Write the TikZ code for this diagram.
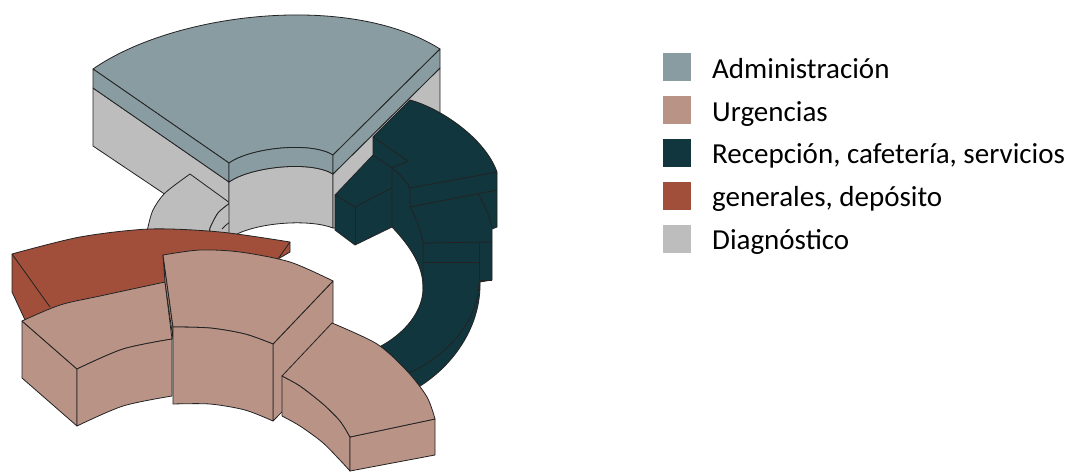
\documentclass[tikz,border=0pt]{standalone}
\usepackage{fontspec}
\setmainfont{Carlito}
\definecolor{admc}{RGB}{137,156,162}
\definecolor{urgc}{RGB}{185,147,134}
\definecolor{recc}{RGB}{17,54,61}
\definecolor{genc}{RGB}{161,79,58}
\definecolor{diac}{RGB}{189,189,189}
\definecolor{edgec}{RGB}{35,35,35}
\tikzset{
  edge/.style={draw=edgec, line width=0.8pt, line join=round},
  adm/.style={edge, fill=admc},
  urg/.style={edge, fill=urgc},
  rec/.style={edge, fill=recc},
  gen/.style={edge, fill=genc},
  dia/.style={edge, fill=diac}
}
\begin{document}
\begin{tikzpicture}[x=1pt, y=-1pt]
\useasboundingbox (0,0) rectangle (1084,474);
% diagnostico
\path [dia] (93,88) -- (229,182) -- (229,215) -- (200,226) -- (166,195) -- (93,146) -- cycle;
\path [dia] (190,174) -- (230,203) -- plot [smooth] coordinates {(230,203) (218,213) (210,228)} -- (208,238) -- (146,238)
  -- plot [smooth] coordinates {(148,227) (153,210) (165,193) (190,174)} -- cycle;
\path [dia] (230,203) -- plot [smooth] coordinates {(230,203) (218,213) (210,228)} -- (210,238) -- (230,238) -- cycle;
\draw [edge] plot [smooth] coordinates {(222,229) (226,225) (230,222)};
\path [dia] (229,182) .. controls (250,167) and (310,160) .. (333,174) -- (333,228)
  .. controls (310,219) and (260,222) .. (235,235) -- (229,236) -- cycle;
\path [dia] (333,174) -- (440,68) -- (440,125) -- (360,200) -- (336,228) -- (333,228) -- cycle;
% administracion
\path [adm] (93,69) .. controls (175,12) and (350,-8) .. (440,49) -- (333,155)
  .. controls (310,141) and (250,148) .. (229,163) -- cycle;
\path [adm] (93,69) -- (229,163) -- (229,182) -- (93,88) -- cycle;
\path [adm] (229,163) .. controls (250,148) and (310,141) .. (333,155) -- (333,174)
  .. controls (310,160) and (250,167) .. (229,182) -- cycle;
\path [adm] (333,155) -- (440,49) -- (440,68) -- (333,174) -- cycle;
% recepcion
\path [rec] (335,195) -- (373,155) -- (373,137) -- (410,100)
  .. controls (440,108) and (485,138) .. (497,172) -- (497,227) -- (492,229) -- (492,280) -- (480,282)
  .. controls (481,325) and (455,365) .. (417,388) -- (400,398) -- (360,362) -- (373,350)
  .. controls (400,338) and (422,315) .. (423,290) .. controls (424,268) and (412,248) .. (392,227)
  -- (355,245) -- (335,230) -- cycle;
\draw [edge] (373,137) -- (408,161) -- (392,168) -- (392,227);
\draw [edge] (373,155) -- (392,168);
\draw [edge] (392,168) .. controls (400,174) and (406,181) .. (410,188);
\draw [edge] (497,172) -- (410,188) -- (410,207) -- (497,190);
\draw [edge] (410,207) .. controls (416,218) and (421,230) .. (423,243) -- (423,290);
\draw [edge] (423,243) -- (492,242);
\draw [edge] (423,262) -- (479,262);
\draw [edge] (479,242) -- (479,280) -- (492,280);
\draw [edge] (478,194) .. controls (484,203) and (489,215) .. (492,228);
\draw [edge] (335,195) -- (355,207) -- (392,188);
\draw [edge] (355,207) -- (355,245);
\draw [edge] (479,282) .. controls (478,320) and (450,355) .. (405,375);
% generales, deposito
\path [gen] (12,254) -- plot [smooth] coordinates {(12,254) (80,237) (150,229) (220,232) (290,242)} -- (290,252) -- (278,259)
  -- (200,290) -- (60,318) -- (26,322) -- (12,292) -- cycle;
\draw [edge] (12,254) -- (50,307);
\draw [edge] (290,242) -- (278,259);
% urgencias
\path [urg] (22,321) -- (77,369) -- (77,426) -- (22,378) -- cycle;
\path [urg] (22,321) -- plot [smooth] coordinates {(22,321) (60,305) (100,296) (165,282)} -- (172,339)
  -- plot [smooth] coordinates {(172,339) (123,349) (77,369)} -- cycle;
\path [urg] (77,369) -- plot [smooth] coordinates {(77,369) (123,349) (172,339)} -- (172,396)
  -- plot [smooth] coordinates {(172,396) (123,406) (77,426)} -- cycle;
\path [urg] (163,255) -- (173,327) -- (173,339) -- (165,282) -- cycle;
\path [urg] (333,281) -- (333,360) -- (273,421) -- (273,344) -- cycle;
\path [urg] (163,255) -- plot [smooth] coordinates {(163,255) (200,250) (240,252) (290,262) (333,281)} -- (273,344)
  -- plot [smooth] coordinates {(273,344) (245,334) (210,328) (173,327)} -- cycle;
\path [urg] (173,327) -- plot [smooth] coordinates {(173,327) (210,328) (245,334) (273,344)} -- (273,421)
  -- plot [smooth] coordinates {(273,421) (245,410) (210,404) (173,404)} -- cycle;
\path [urg] (282,376) -- plot [smooth] coordinates {(282,376) (300,386) (323,404) (340,421) (350,437)} -- (350,471)
  -- plot [smooth] coordinates {(350,471) (338,458) (322,442) (300,426) (282,416)} -- cycle;
\path [urg] (350,437) -- (435,419) -- (435,455) -- (350,471) -- cycle;
\path [urg] (332,323) -- plot [smooth] coordinates {(332,323) (377,344) (407,371) (427,397) (435,419)} -- (350,437)
  -- plot [smooth] coordinates {(350,437) (340,421) (323,404) (300,386) (282,376)} -- cycle;
% leyenda
\foreach \c/\t [count=\i from 0] in {admc/Administración, urgc/Urgencias, recc/{Recepción, cafetería, servicios}, genc/{generales, depósito}, diac/Diagnóstico} {
  \fill [\c] (663,53.3+42.8*\i) rectangle +(28,28);
  \node (leg\i) [anchor=base west, inner sep=0pt, font=\fontsize{29}{34}\selectfont] at (712,78.3+42.8*\i) {\t};
}
\end{tikzpicture}
\end{document}
